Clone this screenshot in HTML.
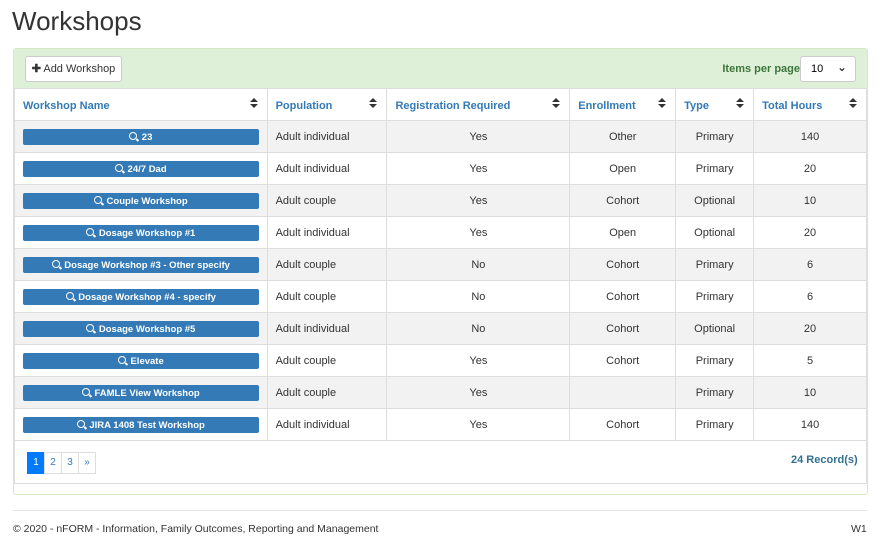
<!DOCTYPE html>
<html><head><style>
body{margin:0;width:891px;height:558px;background:#fff;font-family:"Liberation Sans",Arial,sans-serif;position:relative;overflow:hidden}
.a{position:absolute}
h1{position:absolute;left:12px;top:6px;margin:0;font-size:26px;font-weight:400;color:#333}
.panel{left:13px;top:48px;width:853px;height:445px;border:1px solid #d6e9c6;border-radius:3px;background:#fff}
.ph{left:0;top:0;width:853px;height:40px;background:#dff0d8}
.btn{left:11px;top:7px;width:95px;height:24px;background:#fff;border:1px solid #ccc;border-radius:3px;font-size:11px;color:#333;line-height:24px;text-align:center}
.ipp{right:67px;top:14px;font-size:11px;font-weight:bold;color:#3c763d}
.sel{left:786px;top:7px;width:54px;height:24px;border:1px solid #ccc;border-radius:3px;background:#fff;font-size:11px;line-height:24px}
table{position:absolute;left:0;top:39px;width:853px;border-collapse:collapse;font-size:11px;color:#333}
td,th{border:1px solid #ddd;height:32px;padding:0 8px;box-sizing:border-box}
th{text-align:left;color:#337ab7;font-weight:bold;position:relative;height:32px;padding-top:2px}
th:after{content:"";position:absolute;right:9px;top:9px;width:0;height:0;border-left:4px solid transparent;border-right:4px solid transparent;border-bottom:4px solid #333}
th:before{content:"";position:absolute;right:9px;top:15px;width:0;height:0;border-left:4px solid transparent;border-right:4px solid transparent;border-top:4px solid #333}
tr:nth-child(even) td{background:#f2f2f2}
td.c{text-align:center}
.b{display:block;background:#337ab7;color:#fff;border-radius:2px;height:16px;line-height:18px;text-align:center;font-size:9.5px;font-weight:bold}
.q{display:inline-block;width:6px;height:6px;border:1.5px solid #fff;border-radius:50%;position:relative;top:0px;margin-right:2px}
.q:after{content:"";position:absolute;left:6px;top:6px;width:3px;height:1.5px;background:#fff;transform:rotate(45deg)}
.pg{top:403px;height:20px;border:1px solid #ddd;font-size:10px;line-height:20px;text-align:center;color:#337ab7;background:#fff}
</style></head><body>
<h1>Workshops</h1>
<div class="a panel">
<div class="a ph"></div>
<div class="a btn"><b>✚</b> Add Workshop</div>
<div class="a ipp">Items per page</div>
<div class="a sel"><span style="margin-left:10px">10</span><span style="position:absolute;right:8px;top:-2px;font-size:12px">⌄</span></div>
<table>
<colgroup><col style="width:253px"><col style="width:120px"><col style="width:183px"><col style="width:106px"><col style="width:78px"><col style="width:113px"></colgroup>
<tr><th>Workshop Name</th><th>Population</th><th>Registration Required</th><th>Enrollment</th><th>Type</th><th>Total Hours</th></tr>
<tr><td><span class="b"><i class="q"></i> 23</span></td><td>Adult individual</td><td class="c">Yes</td><td class="c">Other</td><td class="c">Primary</td><td class="c">140</td></tr>
<tr><td><span class="b"><i class="q"></i> 24/7 Dad</span></td><td>Adult individual</td><td class="c">Yes</td><td class="c">Open</td><td class="c">Primary</td><td class="c">20</td></tr>
<tr><td><span class="b"><i class="q"></i> Couple Workshop</span></td><td>Adult couple</td><td class="c">Yes</td><td class="c">Cohort</td><td class="c">Optional</td><td class="c">10</td></tr>
<tr><td><span class="b"><i class="q"></i> Dosage Workshop #1</span></td><td>Adult individual</td><td class="c">Yes</td><td class="c">Open</td><td class="c">Optional</td><td class="c">20</td></tr>
<tr><td><span class="b"><i class="q"></i> Dosage Workshop #3 - Other specify</span></td><td>Adult couple</td><td class="c">No</td><td class="c">Cohort</td><td class="c">Primary</td><td class="c">6</td></tr>
<tr><td><span class="b"><i class="q"></i> Dosage Workshop #4 - specify</span></td><td>Adult couple</td><td class="c">No</td><td class="c">Cohort</td><td class="c">Primary</td><td class="c">6</td></tr>
<tr><td><span class="b"><i class="q"></i> Dosage Workshop #5</span></td><td>Adult individual</td><td class="c">No</td><td class="c">Cohort</td><td class="c">Optional</td><td class="c">20</td></tr>
<tr><td><span class="b"><i class="q"></i> Elevate</span></td><td>Adult couple</td><td class="c">Yes</td><td class="c">Cohort</td><td class="c">Primary</td><td class="c">5</td></tr>
<tr><td><span class="b"><i class="q"></i> FAMLE View Workshop</span></td><td>Adult couple</td><td class="c">Yes</td><td class="c"></td><td class="c">Primary</td><td class="c">10</td></tr>
<tr><td><span class="b"><i class="q"></i> JIRA 1408 Test Workshop</span></td><td>Adult individual</td><td class="c">Yes</td><td class="c">Cohort</td><td class="c">Primary</td><td class="c">140</td></tr>
</table>
<div class="a" style="left:0;top:392px;width:853px;height:43px;border-bottom:1px solid #ddd;border-left:1px solid #ddd;border-right:1px solid #ddd;box-sizing:border-box"></div>
<div class="a pg" style="left:13px;width:16px;background:#007bff;border-color:#007bff;color:#fff">1</div>
<div class="a pg" style="left:30px;width:16px">2</div>
<div class="a pg" style="left:47px;width:16px">3</div>
<div class="a pg" style="left:64px;width:16px">»</div>
<div class="a" style="left:777px;top:405px;font-size:11px;font-weight:bold;color:#31708f">24 Record(s)</div>
</div>
<div class="a" style="left:13px;top:510px;width:854px;border-top:1px solid #e5e5e5"></div>
<div class="a" style="left:13px;top:523px;font-size:10.5px;color:#333">© 2020 - nFORM - Information, Family Outcomes, Reporting and Management</div>
<div class="a" style="left:851px;top:523px;font-size:10.5px;color:#333">W1</div>
</body></html>
